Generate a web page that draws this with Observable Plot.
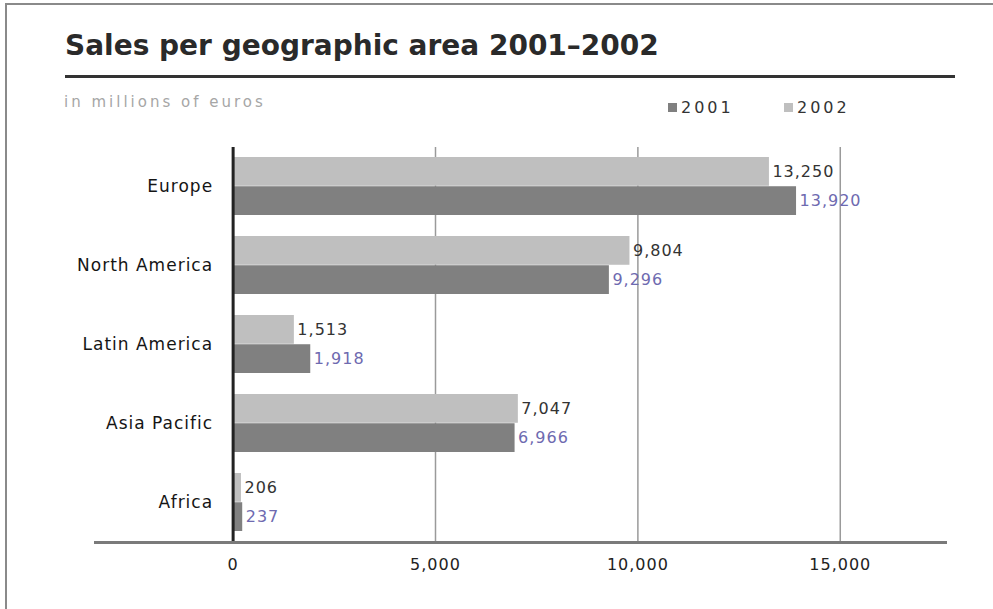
<!DOCTYPE html>
<html>
<head>
<meta charset="utf-8">
<script src="https://cdn.jsdelivr.net/npm/d3@7"></script>
<script src="https://cdn.jsdelivr.net/npm/@observablehq/plot@0.6"></script>
<style>
  html, body { margin: 0; padding: 0; background: #fff; }
  #wrap { position: relative; width: 993px; height: 609px; overflow: hidden; background: #fff; font-family: "DejaVu Sans", sans-serif; }
  #border-top { position: absolute; left: 5px; top: 3px; right: 0; height: 2px; background: #8a8a8a; }
  #border-left { position: absolute; left: 5px; top: 3px; bottom: 0; width: 2px; background: #8a8a8a; }
  #title { position: absolute; left: 65px; top: 28px; font-size: 28px; font-weight: bold; color: #2a2a2a; white-space: nowrap; line-height: 36px; }
  #rule { position: absolute; left: 65px; width: 890px; top: 75px; height: 3px; background: #333; }
  #subtitle { position: absolute; left: 64px; top: 92px; font-size: 15px; color: #a6a6a6; letter-spacing: 3px; white-space: nowrap; line-height: 20px; }
  #legend { position: absolute; top: 98px; left: 668px; font-size: 16px; color: #333; letter-spacing: 3px; white-space: nowrap; line-height: 20px; }
  #legend .item { position: absolute; top: 0; }
  #legend .sw { display: inline-block; width: 9px; height: 9px; margin-right: 4px; vertical-align: 1px; }
  #chart { position: absolute; left: 0; top: 130px; }
  #chart svg text { letter-spacing: 1px; }
</style>
</head>
<body>
<div id="wrap">
  <div id="border-top"></div>
  <div id="border-left"></div>
  <div id="title">Sales per geographic area 2001–2002</div>
  <div id="rule"></div>
  <div id="subtitle">in millions of euros</div>
  <div id="legend"></div>
  <div id="chart"></div>
</div>
<script>
const regions = ["Europe", "North America", "Latin America", "Asia Pacific", "Africa"];
const sales2001 = [13920, 9296, 1918, 6966, 237];
const sales2002 = [13250, 9804, 1513, 7047, 206];
const years = ["2001", "2002"];
const yearColors = ["#808080", "#bfbfbf"];
const xTicks = [0, 5000, 10000, 15000];
const gridTicks = [5000, 10000, 15000];

const rows2001 = regions.map((r, i) => ({region: r, value: sales2001[i]}));
const rows2002 = regions.map((r, i) => ({region: r, value: sales2002[i]}));

// legend
const legend = document.getElementById("legend");
years.forEach((y, i) => {
  const it = document.createElement("span");
  it.className = "item";
  it.style.left = (i * 116) + "px";
  it.innerHTML = `<span class="sw" style="background:${yearColors[i]}"></span>${y}`;
  legend.appendChild(it);
});

const W = 993, H = 460, mt = 17, mb = 48, ml = 95, mr = 48;
const pInner = 0.26, pOuter = 0.13;
const step = (H - mt - mb) / (regions.length - pInner + 2 * pOuter);
const bw = step * (1 - pInner);
const half = bw / 2;

const chart = Plot.plot({
  width: W,
  height: H,
  marginTop: mt,
  marginBottom: mb,
  marginLeft: ml,
  marginRight: mr,
  style: {fontFamily: "DejaVu Sans", fontSize: "16px", color: "#222", background: "transparent"},
  x: {domain: [-3400, 17600], ticks: xTicks, tickFormat: d3.format(","), tickSize: 0, tickPadding: 16, label: null},
  y: {domain: regions, paddingInner: pInner, paddingOuter: pOuter, axis: null},
  marks: [
    Plot.ruleX(gridTicks, {stroke: "#9a9a9a", strokeWidth: 1.5}),
    Plot.barX(rows2002, {x: "value", y: "region", fill: yearColors[1], insetBottom: half}),
    Plot.barX(rows2001, {x: "value", y: "region", fill: yearColors[0], insetTop: half}),
    Plot.ruleX([0], {stroke: "#222", strokeWidth: 3}),
    Plot.frame({anchor: "bottom", stroke: "#7a7a7a", strokeWidth: 3}),
    Plot.text(rows2002, {x: "value", y: "region", text: d => d3.format(",")(d.value), dy: -half / 2, dx: 3, textAnchor: "start", fill: "#333", fontSize: 16}),
    Plot.text(rows2001, {x: "value", y: "region", text: d => d3.format(",")(d.value), dy: half / 2, dx: 3, textAnchor: "start", fill: "#6e6ab0", fontSize: 16}),
    Plot.text(regions, {x: 0, y: d => d, text: d => d, dx: -20, textAnchor: "end", fill: "#151515", fontSize: 17})
  ]
});
document.getElementById("chart").appendChild(chart);
</script>
</body>
</html>
